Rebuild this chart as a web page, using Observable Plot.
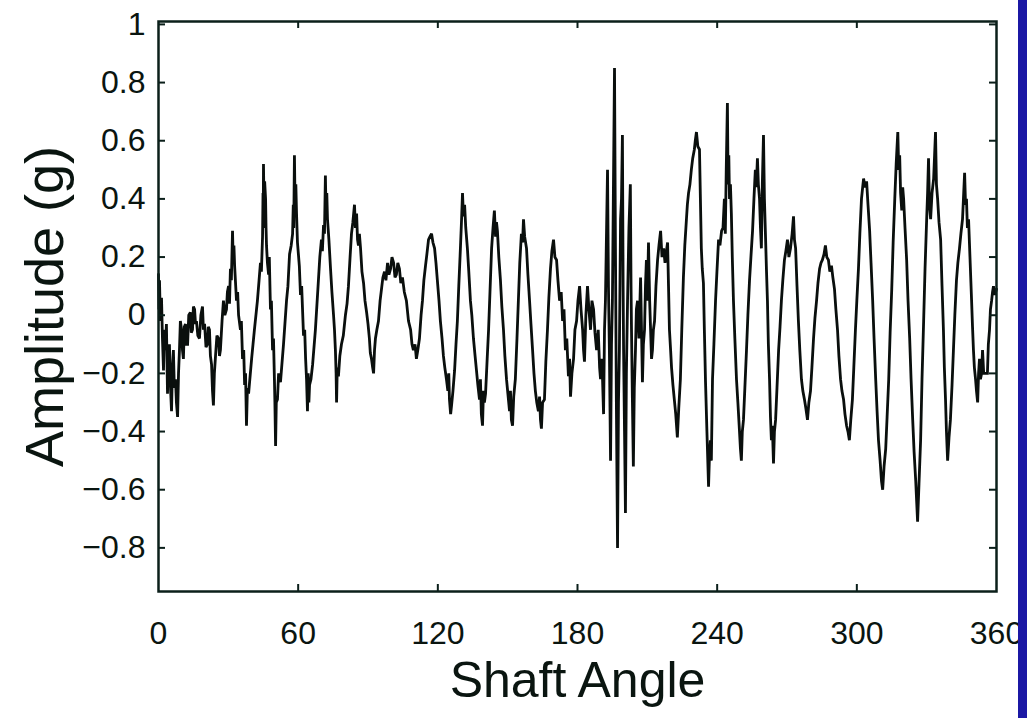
<!DOCTYPE html>
<html><head><meta charset="utf-8">
<script src="https://cdn.jsdelivr.net/npm/d3@7"></script>
<script src="https://cdn.jsdelivr.net/npm/@observablehq/plot@0.6"></script>
<style>
body{margin:0;background:#fff;overflow:hidden}
#wrap{position:relative;width:1027px;height:718px;background:#fff}
#blue{position:absolute;left:1018px;top:0;width:9px;height:718px;background:#1b18a4}
</style></head><body><div id="wrap"><div id="blue"></div></div>
<script>
// Vibration signal: [shaft angle (deg), amplitude (g)]
const signal = [
[0,0.14],[0.2,0.02],[0.43,0.12],[0.8,-0.02],[1.29,0.06],[1.7,-0.08],[2.15,-0.19],[2.5,-0.05],[3.0,-0.12],[3.4,-0.03],[3.87,-0.27],[4.2,-0.14],[4.7,-0.10],[5.1,-0.24],[5.6,-0.33],[6.0,-0.18],[6.4,-0.12],[6.8,-0.25],[7.3,-0.22],[7.7,-0.30],[8.2,-0.35],[8.6,-0.20],[9.0,-0.12],[9.4,-0.02],[9.9,-0.05],[10.3,-0.12],[10.7,-0.15],[11.1,-0.04],[11.6,-0.03],[12.0,-0.10],[12.5,-0.10],[13.0,0.0],[13.7,0.01],[14.1,-0.06],[14.6,-0.05],[15.0,0.03],[15.5,0.02],[15.9,-0.03],[16.3,-0.02],[16.9,-0.07],[17.6,-0.08],[18.2,0.0],[18.9,0.03],[19.3,-0.05],[19.8,-0.03],[20.4,-0.11],[21.0,-0.10],[21.4,-0.04],[21.9,-0.05],[22.3,-0.14],[22.8,-0.17],[23.2,-0.26],[23.6,-0.31],[24.0,-0.20],[24.5,-0.14],[25.1,-0.07],[25.8,-0.08],[26.2,-0.14],[26.6,-0.12],[27.3,-0.02],[27.9,0.05],[28.5,0.0],[29.2,0.02],[29.6,0.08],[30.1,0.10],[30.5,0.04],[30.9,0.16],[31.3,0.12],[31.8,0.29],[32.1,0.18],[32.4,0.24],[32.7,0.17],[33.5,0.05],[34.0,0.08],[34.4,0.0],[35.2,-0.05],[35.6,-0.02],[36.1,-0.15],[36.6,-0.12],[37.0,-0.24],[37.4,-0.20],[37.8,-0.38],[38.2,-0.25],[38.7,-0.27],[40.0,-0.15],[40.6,-0.10],[41.2,-0.05],[42.5,0.05],[43.2,0.12],[43.8,0.18],[44.2,0.15],[44.7,0.27],[44.9,0.42],[45.0,0.30],[45.1,0.52],[45.4,0.33],[45.6,0.46],[46.0,0.40],[46.2,0.30],[46.4,0.24],[46.8,0.18],[47.3,0.14],[47.6,0.20],[48.1,0.02],[48.5,0.05],[49.0,-0.12],[49.4,-0.08],[49.8,-0.22],[50.0,-0.30],[50.3,-0.45],[50.6,-0.30],[51.1,-0.29],[51.6,-0.20],[52.4,-0.23],[53.7,-0.10],[55.0,0.05],[55.6,0.10],[56.3,0.21],[57.0,0.24],[57.6,0.28],[57.9,0.38],[58.1,0.30],[58.4,0.55],[58.7,0.36],[59.0,0.45],[59.3,0.35],[59.7,0.25],[60.1,0.21],[60.5,0.17],[61.0,0.07],[61.5,0.10],[62.3,-0.07],[62.8,-0.05],[63.2,-0.15],[63.6,-0.22],[64.0,-0.33],[64.3,-0.20],[64.6,-0.30],[64.9,-0.24],[65.5,-0.22],[66.2,-0.17],[67.4,-0.05],[68.7,0.12],[69.3,0.20],[70.0,0.26],[70.4,0.22],[70.9,0.31],[71.3,0.28],[71.7,0.48],[72.0,0.34],[72.3,0.42],[72.6,0.33],[73.2,0.26],[73.9,0.16],[74.5,0.08],[75.2,0.0],[75.6,-0.05],[76.0,-0.12],[76.3,-0.20],[76.5,-0.30],[76.8,-0.18],[77.3,-0.21],[77.9,-0.14],[78.6,-0.10],[79.4,-0.07],[80.3,0.0],[81.0,0.04],[81.6,0.10],[82.3,0.20],[82.9,0.28],[83.5,0.32],[84.2,0.38],[84.6,0.30],[85.1,0.35],[85.5,0.26],[85.9,0.24],[86.3,0.28],[86.8,0.23],[87.4,0.15],[88.1,0.11],[88.7,0.05],[89.4,0.01],[90.0,-0.03],[90.6,-0.08],[91.0,-0.13],[91.5,-0.15],[92.0,-0.18],[92.4,-0.20],[92.8,-0.12],[93.2,-0.08],[93.8,-0.05],[94.5,-0.02],[95.2,0.05],[95.8,0.09],[96.4,0.13],[97.1,0.15],[97.7,0.12],[98.4,0.18],[99.0,0.14],[99.7,0.16],[100.3,0.20],[101.0,0.18],[101.6,0.13],[102.2,0.14],[102.8,0.18],[103.5,0.16],[104.1,0.11],[104.8,0.13],
[105.6,0.08],[106.5,0.05],[107.4,-0.02],[108.3,-0.05],[108.9,-0.10],[109.5,-0.12],[110.2,-0.10],[110.8,-0.15],[111.4,-0.12],[112.1,-0.08],[112.8,0.0],[113.4,0.05],[114.0,0.12],[114.7,0.17],[115.3,0.21],[116.0,0.26],[116.6,0.27],[117.3,0.28],[117.9,0.25],[118.6,0.23],[119.2,0.18],[119.8,0.12],[120.5,0.05],[121.1,-0.02],[121.8,-0.08],[122.4,-0.14],[123.0,-0.18],[123.7,-0.22],[124.3,-0.26],[124.7,-0.20],[125.0,-0.29],[125.5,-0.34],[125.9,-0.31],[126.5,-0.26],[127.2,-0.19],[127.8,-0.10],[128.4,-0.02],[129.0,0.10],[129.7,0.23],[130.2,0.33],[130.6,0.42],[131.0,0.34],[131.5,0.38],[132.0,0.30],[132.7,0.23],[133.3,0.15],[134.0,0.05],[134.6,0.0],[135.3,-0.08],[136.0,-0.14],[136.6,-0.19],[137.2,-0.24],[137.9,-0.29],[138.3,-0.22],[138.7,-0.34],[139.2,-0.38],[139.6,-0.26],[140.0,-0.30],[140.5,-0.27],[141.2,-0.15],[141.8,-0.05],[142.4,0.08],[143.1,0.23],[143.7,0.30],[144.3,0.36],[144.8,0.27],[145.2,0.32],[145.6,0.29],[146.2,0.20],[146.9,0.12],[147.5,0.03],[148.2,-0.05],[148.8,-0.14],[149.5,-0.22],[150.1,-0.27],[150.8,-0.33],[151.2,-0.26],[151.6,-0.36],[152.1,-0.38],[152.6,-0.28],[153.3,-0.22],[154.0,-0.08],[154.6,0.05],[155.2,0.18],[155.9,0.28],[156.4,0.25],[156.8,0.33],[157.3,0.27],[158.1,0.23],[158.7,0.14],[159.4,0.05],[160.0,-0.03],[160.7,-0.12],[161.3,-0.20],[161.9,-0.26],[162.5,-0.30],[163.2,-0.33],[163.7,-0.28],[164.1,-0.36],[164.5,-0.39],[165.0,-0.30],[165.8,-0.29],[166.4,-0.16],[167.1,-0.05],[167.7,0.06],[168.4,0.16],[169.0,0.22],[169.7,0.26],[170.3,0.20],[171.0,0.19],[171.6,0.12],[172.3,0.05],
[173.0,0.08],[173.6,-0.02],[174.2,0.02],[174.8,-0.12],[175.4,-0.08],[176.1,-0.21],[176.6,-0.15],[177.0,-0.28],[177.6,-0.20],[178.3,-0.15],[178.9,-0.05],[179.6,-0.02],[180.2,0.05],[180.9,0.10],[181.5,0.02],[182.2,-0.05],[182.6,-0.12],[183.0,-0.16],[183.6,0.0],[184.3,0.10],[184.9,0.02],[185.6,-0.05],[186.2,0.05],[186.9,0.02],[187.5,-0.06],[188.2,-0.12],[188.9,-0.05],[189.5,-0.18],[189.9,-0.22],[190.5,-0.15],[191.2,-0.34],[191.6,-0.05],[192.0,0.05],[192.9,0.50],[193.3,0.10],[193.7,-0.12],[194.2,-0.50],[194.6,-0.10],[195.0,0.05],[195.9,0.85],[196.3,0.23],[196.7,-0.30],[197.2,-0.80],[197.6,-0.30],[198.0,-0.12],[198.5,0.33],[198.9,0.40],[199.3,0.62],[199.6,0.10],[199.8,-0.12],[200.2,-0.40],[200.6,-0.68],[201.0,-0.20],[201.5,0.05],[202.1,0.30],[202.7,0.45],[203.0,0.10],[203.2,-0.05],[203.6,-0.30],[204.0,-0.52],[204.4,-0.25],[204.9,-0.12],[205.3,0.02],[205.8,0.05],[206.4,-0.08],[207.1,0.13],[207.5,-0.05],[207.9,-0.23],[208.3,-0.10],[208.8,-0.05],[209.2,0.10],[209.6,0.19],[210.0,0.05],[210.5,0.25],[211.0,0.05],[211.4,-0.05],[211.8,-0.15],[212.2,-0.12],[212.6,-0.05],[213.1,-0.02],[213.7,0.10],[214.4,0.19],[215.0,0.24],[215.7,0.29],[216.3,0.20],[217.0,0.23],[217.6,0.18],[218.2,0.22],[218.7,0.25],[219.1,0.10],[219.5,-0.05],[220.0,-0.12],[220.4,-0.18],[221.0,-0.24],[221.6,-0.29],[222.2,-0.34],[222.9,-0.42],[223.5,-0.32],[224.2,-0.22],[224.8,-0.05],[225.5,0.13],[226.1,0.24],[226.8,0.33],[227.2,0.38],[227.7,0.42],[228.3,0.45],[228.9,0.50],[229.5,0.54],[230.2,0.57],[230.6,0.60],[231.1,0.63],[231.7,0.58],[232.4,0.57],[232.8,0.40],[233.2,0.23],[233.6,0.16],[234.1,0.11],[234.5,-0.05],[235.0,-0.23],[235.6,-0.40],[236.3,-0.59],[236.7,-0.48],[237.1,-0.43],[237.5,-0.50],[238.0,-0.22],[238.6,-0.10],[239.3,0.05],[239.9,0.15],[240.6,0.26],[241.2,0.24],[241.9,0.29],[242.5,0.30],[243.1,0.40],[243.5,0.28],[243.9,0.50],[244.4,0.73],[244.7,0.45],[245.0,0.55],[245.3,0.40],[245.7,0.45],[246.1,0.35],[246.5,0.20],[247.0,0.05],[247.6,-0.08],[248.3,-0.22],[248.9,-0.30],[249.6,-0.40],[250.0,-0.46],[250.4,-0.50],[250.8,-0.40],[251.3,-0.36],[251.9,-0.25],[252.6,-0.12],[253.2,0.0],[253.9,0.12],[254.5,0.20],[255.2,0.29],[255.8,0.40],[256.4,0.50],[256.8,0.44],[257.3,0.54],[257.7,0.45],[258.2,0.40],[258.6,0.30],[259.0,0.23],[259.4,0.45],[259.9,0.62],[260.3,0.40],[260.7,0.29],[261.2,0.15],[261.6,0.05],[262.0,-0.10],[262.5,-0.22],[262.9,-0.35],[263.3,-0.43],[263.7,-0.38],[264.2,-0.51],[264.6,-0.40],[265.1,-0.36],[265.7,-0.25],[266.4,-0.12],[267.0,-0.04],[267.6,0.05],[268.2,0.12],[268.9,0.19],[269.5,0.22],[270.2,0.26],[270.8,0.20],[271.5,0.23],[272.2,0.28],[272.8,0.34],[273.2,0.26],[273.7,0.23],[274.3,0.10],[274.9,-0.02],[275.5,-0.12],[276.2,-0.22],[276.8,-0.26],[277.5,-0.29],[278.1,-0.32],[278.8,-0.36],[279.4,-0.30],[280.1,-0.26],[280.7,-0.18],[281.4,-0.08],[282.0,-0.01],[282.7,0.05],[283.3,0.11],[284.0,0.16],[284.6,0.18],[285.2,0.19],[285.9,0.21],[286.5,0.24],[287.1,0.20],[287.8,0.19],[288.4,0.15],[289.1,0.17],[289.7,0.13],[290.4,0.09],[291.0,0.02],[291.7,-0.05],[292.3,-0.14],[293.0,-0.22],[293.6,-0.26],[294.3,-0.29],[294.9,-0.34],[295.6,-0.38],[296.2,-0.40],[296.8,-0.43],[297.4,-0.36],[298.1,-0.29],[298.7,-0.18],[299.4,-0.05],[300.0,0.05],[300.7,0.16],[301.3,0.28],[302.0,0.40],[302.5,0.44],[302.9,0.47],[303.5,0.44],[304.2,0.46],[304.8,0.38],[305.5,0.29],[306.1,0.18],[306.8,0.05],[307.4,-0.08],[308.1,-0.22],[308.7,-0.33],[309.3,-0.43],[310.0,-0.50],[310.6,-0.57],[311.1,-0.60],[311.7,-0.52],[312.4,-0.46],[313.0,-0.35],[313.7,-0.22],[314.3,-0.06],[315.0,0.09],[315.6,0.25],[316.3,0.40],[316.9,0.52],[317.6,0.63],[318.0,0.50],[318.4,0.55],[318.8,0.42],[319.3,0.36],[319.7,0.44],[320.1,0.40],[320.7,0.30],[321.4,0.19],[322.0,0.05],[322.7,-0.08],[323.3,-0.22],[324.0,-0.36],[324.6,-0.47],[325.3,-0.57],[325.7,-0.64],[326.1,-0.71],[326.7,-0.58],[327.4,-0.43],[328.0,-0.22],[328.7,-0.02],[329.3,0.16],[330.0,0.33],[330.4,0.42],[330.8,0.54],[331.2,0.38],[331.7,0.33],[332.3,0.42],[333.0,0.47],[333.4,0.55],[333.8,0.63],[334.2,0.45],[334.7,0.40],[335.3,0.32],[336.0,0.26],[336.6,0.10],[337.2,-0.05],[337.6,-0.18],[338.1,-0.29],[338.5,-0.40],[339.0,-0.50],[339.6,-0.42],[340.2,-0.36],[340.9,-0.24],[341.5,-0.12],[342.1,0.0],[342.8,0.12],[343.4,0.18],[344.1,0.23],[344.7,0.28],[345.4,0.33],[345.8,0.40],[346.3,0.49],[346.7,0.38],[347.1,0.40],[347.5,0.30],[348.0,0.33],[348.6,0.20],[349.3,0.05],[349.7,-0.04],[350.1,-0.12],[350.5,-0.18],[351.0,-0.22],[351.4,-0.26],[351.9,-0.30],[352.3,-0.20],[352.7,-0.15],[353.1,-0.22],[353.6,-0.20],[354.0,-0.12],[354.5,-0.20],[356.1,-0.20],[356.5,-0.10],[357.0,-0.05],[357.4,0.02],[357.9,0.05],[358.3,0.08],[358.7,0.10],[359.3,0.07],[360.0,0.09]
];
const angle = signal.map(d => d[0]);
const amplitude = signal.map(d => d[1]);
const xTicks = [0, 60, 120, 180, 240, 300, 360];
const yTicks = [-0.8, -0.6, -0.4, -0.2, 0, 0.2, 0.4, 0.6, 0.8, 1];
const xTitle = "Shaft Angle";
const yTitle = "Amplitude (g)";

const data = angle.map((a, i) => ({angle: a, amp: amplitude[i]}));
const W = 1027, H = 718, mL = 158, mR = 31, mT = 21, mB = 127;
const iw = W - mL - mR, ih = H - mT - mB;
const ink = "#0b1f1a";
const tk = 7;
const fmtY = d => (d < 0 ? "\u2212" : "") + String(Math.abs(d));
const chart = Plot.plot({
  width: W, height: H,
  marginLeft: mL, marginRight: mR, marginTop: mT, marginBottom: mB,
  style: {fontFamily: "'Liberation Sans', Arial, sans-serif", background: "transparent", color: "#000", overflow: "visible"},
  x: {domain: [0, 360], label: null},
  y: {domain: [-0.95, 1.01], label: null},
  marks: [
    Plot.lineY(data, {x: "angle", y: "amp", stroke: "#0a0f0d", strokeWidth: 2.8, strokeLinejoin: "miter", strokeMiterlimit: 2}),
    Plot.ruleX(xTicks.slice(1, -1), {x: d => d, insetTop: ih - tk, stroke: ink, strokeWidth: 2}),
    Plot.ruleX(xTicks.slice(1, -1), {x: d => d, insetBottom: ih - tk, stroke: ink, strokeWidth: 2}),
    Plot.ruleY(yTicks, {y: d => d, insetRight: iw - tk, stroke: ink, strokeWidth: 2}),
    Plot.ruleY(yTicks, {y: d => d, insetLeft: iw - tk, stroke: ink, strokeWidth: 2}),
    Plot.frame({stroke: ink, strokeWidth: 2.5}),
    Plot.axisX(xTicks, {tickSize: 0, tickPadding: 30, fontSize: 32, tickFormat: d => String(d), label: null, fill: "#0a1510"}),
    Plot.axisY(yTicks, {tickSize: 0, tickPadding: 13, fontSize: 32, tickFormat: fmtY, label: null, fill: "#0a1510"}),
    Plot.text([xTitle], {frameAnchor: "bottom", dy: 89, fontSize: 50, lineAnchor: "middle", textAnchor: "middle", fill: "#0a1510", text: d => d}),
    Plot.text([yTitle], {frameAnchor: "left", dx: -113, dy: 0, rotate: -90, fontSize: 54, lineAnchor: "middle", textAnchor: "middle", fill: "#0a1510", text: d => d})
  ]
});
chart.style.position = "absolute";
chart.style.left = "0px";
chart.style.top = "0px";
document.getElementById("wrap").insertBefore(chart, document.getElementById("blue"));
</script>
</body></html>
